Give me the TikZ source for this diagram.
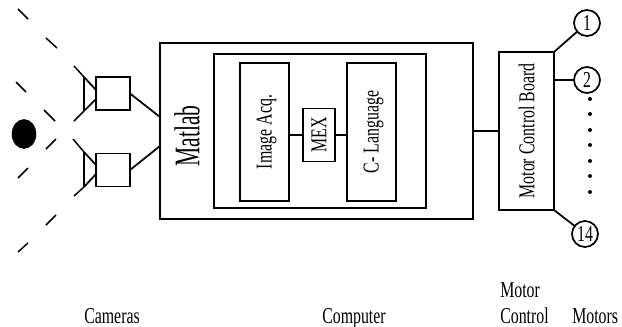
\documentclass[tikz,border=0pt]{standalone}
\usepackage{fontspec}
\setmainfont[FakeStretch=0.7]{Liberation Serif}
\newfontfamily\matlabfont[FakeStretch=0.6]{Liberation Serif}
\usepackage{tikz}
\usetikzlibrary{shapes.geometric,positioning}

\tikzset{
    boxnode/.style={draw, rectangle, line width=1.3pt, outer sep=0pt, inner sep=0pt, font=\fontsize{17}{19}\selectfont},
    motornode/.style={draw, circle, line width=1.3pt, outer sep=0pt, inner sep=0pt, minimum size=19.5pt, font=\fontsize{17}{19}\selectfont},
    wire/.style={line width=1.3pt},
    viewdash/.style={line width=1.1pt},
    caption/.style={font=\fontsize{17}{19}\selectfont, inner sep=0pt, anchor=base west}
}

\begin{document}
\begin{tikzpicture}[x=0.75pt, y=-0.75pt]
    \useasboundingbox (0,0) rectangle (622,326);

    % computer
    \node[boxnode, minimum width=234.75pt, minimum height=132pt] (matlab) at (316.5,131) {};
    \node[boxnode, minimum width=159pt, minimum height=115.5pt] (inner) at (320,131) {};
    \node[boxnode, minimum width=36.75pt, minimum height=103.5pt] (image) at (264.5,132) {\hspace{3pt}\rotatebox{90}{Image Acq.}};
    \node[boxnode, minimum width=24pt, minimum height=39.75pt, right=10.5pt of image.east, yshift=-2.25pt, anchor=west] (mex) {\rotatebox{90}{MEX}};
    \node[boxnode, minimum width=36.75pt, minimum height=103.5pt] (clang) at (371.5,132) {\hspace{3pt}\rotatebox{90}{C- Language}};
    \node[rotate=90, inner sep=0pt, font=\fontsize{27}{29}\matlabfont] (matlabtext) at (187,136) {Matlab};

    \draw[wire] (mex.west -| image.east) -- (mex.west);
    \draw[wire] (mex.east) -- (mex.east -| clang.west);

    % motor control
    \node[boxnode, minimum width=41.25pt, minimum height=118.5pt, right=19.5pt of matlab.east, anchor=west] (board) {\rotatebox{90}{Motor Control Board}\hspace{3pt}};
    \node[motornode] (m1) at (587,23) {1};
    \node[motornode] (m2) at (587,80) {2};
    \node[motornode] (m14) at (585,234) {14};

    \draw[wire] (matlab.east) -- (board.west);
    \draw[wire] (board.north east) -- (m1);
    \draw[wire] (m2 -| board.east) -- (m2);
    \draw[wire] (board.south east) -- (m14);

    \foreach \dotrow/\dotname in {99/a, 114/b, 130/c, 145/d, 161/e, 176/f, 192/g} {
        \node[fill=black, circle, inner sep=0pt, minimum size=3pt] (dot\dotname) at (590,\dotrow) {};
    }

    % cameras
    \node[boxnode, minimum width=25.5pt, minimum height=24.75pt] (cam1) at (113,93.5) {};
    \node[boxnode, minimum width=25.5pt, minimum height=24.75pt] (cam2) at (113,170) {};

    \coordinate (lens1a) at (84,77);
    \coordinate (lens1b) at (84,111);
    \coordinate (lens2a) at (84,152);
    \coordinate (lens2b) at (84,187);
    \coordinate (in1) at (160,117);
    \coordinate (in2) at (160,146);

    \draw[wire] (lens1a) -- (lens1b);
    \draw[wire] (lens1a) -- (96,90);
    \draw[wire] (lens1b) -- (96,99);
    \draw[wire] (lens2a) -- (lens2b);
    \draw[wire] (lens2a) -- (96,165);
    \draw[wire] (lens2b) -- (96,174);

    \draw[wire] (cam1.east) -- (in1);
    \draw[wire] (cam2.east) -- (in2);

    % object and fields of view
    \node[draw, fill=black, ellipse, inner sep=0pt, minimum width=18pt, minimum height=21.75pt] (ball) at (24,134) {};

    \draw[viewdash] (18,9) -- (28,19);
    \draw[viewdash] (46,38) -- (57,48);
    \draw[viewdash] (74,66) -- (lens1a);
    \draw[viewdash] (16,82) -- (26,92);
    \draw[viewdash] (44,110) -- (55,121);
    \draw[viewdash] (74,121) -- (lens1b);
    \draw[viewdash] (46,149) -- (56,139);
    \draw[viewdash] (18,178) -- (28,168);
    \draw[viewdash] (73,139) -- (lens2a);
    \draw[viewdash] (74,196) -- (lens2b);
    \draw[viewdash] (46,225) -- (56,215);
    \draw[viewdash] (18,252) -- (28,243);

    % captions
    \node[caption] (capcam) at (84,323) {Cameras};
    \node[caption] (capcomp) at (322,323) {Computer};
    \node[caption] (capctrl) at (500,323) {Control};
    \node[caption] (capmotor) at (500,297) {Motor};
    \node[caption] (capmotors) at (572,323) {Motors};
\end{tikzpicture}
\end{document}
